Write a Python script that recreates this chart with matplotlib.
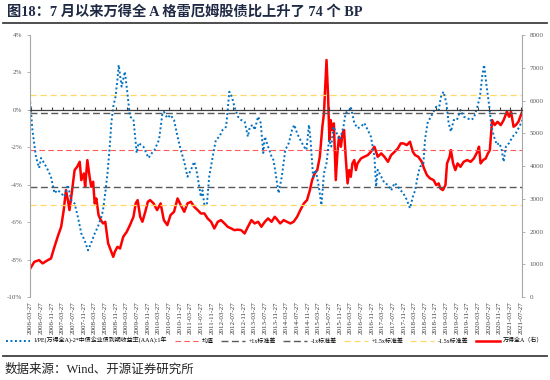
import datetime as dt

import matplotlib
matplotlib.use("Agg")
import matplotlib.dates as mdates
import matplotlib.pyplot as plt
from matplotlib.lines import Line2D
from matplotlib.ticker import FuncFormatter, MultipleLocator

CJK = ["Liberation Serif", "Noto Sans CJK SC"]
plt.rcParams["font.family"] = CJK

# 1/PE(万得全A) - 2*企业债收益率, %, (decimal year, value)
spread_t = [
    2006.22, 2006.24, 2006.29, 2006.40, 2006.50, 2006.56, 2006.66, 2006.77, 2006.87, 2006.98,
    2007.08, 2007.19, 2007.29, 2007.40, 2007.50, 2007.61, 2007.71, 2007.82, 2007.92, 2008.03,
    2008.13, 2008.24, 2008.34, 2008.45, 2008.50, 2008.57, 2008.64, 2008.71, 2008.76, 2008.82,
    2008.89, 2008.95, 2008.99, 2009.08, 2009.18, 2009.25, 2009.34, 2009.45, 2009.50, 2009.55,
    2009.61, 2009.76, 2009.92, 2010.03, 2010.11, 2010.25, 2010.35, 2010.40, 2010.51, 2010.61,
    2010.72, 2010.83, 2010.93, 2011.04, 2011.14, 2011.25, 2011.35, 2011.42, 2011.51, 2011.56,
    2011.61, 2011.67, 2011.75, 2011.82, 2011.93, 2012.03, 2012.14, 2012.24, 2012.35, 2012.40,
    2012.45, 2012.53, 2012.61, 2012.72, 2012.82, 2012.93, 2013.03, 2013.09, 2013.19, 2013.24,
    2013.35, 2013.43, 2013.51, 2013.56, 2013.66, 2013.77, 2013.83, 2013.88, 2013.99, 2014.09,
    2014.20, 2014.31, 2014.41, 2014.48, 2014.57, 2014.67, 2014.78, 2014.86, 2014.94, 2014.99,
    2015.07, 2015.15, 2015.25, 2015.33, 2015.41, 2015.49, 2015.57, 2015.64, 2015.70, 2015.81,
    2015.91, 2016.02, 2016.09, 2016.20, 2016.25, 2016.36, 2016.46, 2016.57, 2016.67, 2016.78,
    2016.88, 2016.99, 2017.04, 2017.09, 2017.20, 2017.30, 2017.41, 2017.51, 2017.62, 2017.72,
    2017.81, 2017.89, 2018.00, 2018.10, 2018.19, 2018.26, 2018.36, 2018.42, 2018.52, 2018.57,
    2018.65, 2018.73, 2018.84, 2018.92, 2019.00, 2019.07, 2019.15, 2019.24, 2019.31, 2019.38,
    2019.47, 2019.57, 2019.68, 2019.78, 2019.89, 2020.00, 2020.10, 2020.21, 2020.29, 2020.36,
    2020.42, 2020.50, 2020.57, 2020.65, 2020.73, 2020.82, 2020.89, 2020.96, 2021.03, 2021.10,
    2021.20, 2021.31, 2021.41, 2021.52, 2021.62, 2021.68,
]
spread_v = [
    0.44, 0.00, -1.07, -2.50, -3.10, -2.57, -2.85, -3.20, -3.57, -4.45,
    -4.28, -4.45, -4.64, -4.00, -4.80, -5.00, -5.70, -6.60, -6.95, -7.50,
    -7.10, -6.60, -6.24, -5.70, -5.35, -4.45, -3.38, -1.96, -0.70, 0.17,
    0.70, 1.60, 2.40, 1.24, 2.04, 1.06, -0.36, -0.50, -1.43, -2.30,
    -1.77, -1.96, -2.57, -2.30, -2.14, -1.60, -0.27, -0.10, -0.44, -0.27,
    -0.54, -1.43, -2.14, -2.77, -3.57, -3.20, -2.77, -3.20, -4.10, -4.64,
    -4.30, -5.08, -5.00, -3.57, -2.50, -1.60, -1.43, -1.07, -0.90, 0.00,
    0.97, 0.70, 0.17, -0.36, -0.54, -0.63, -1.43, -0.90, -0.80, -1.07,
    -0.36, -0.70, -2.30, -1.43, -1.96, -2.50, -2.68, -3.20, -4.45, -3.57,
    -2.14, -1.77, -1.07, -0.80, -1.25, -1.60, -1.96, -2.14, -0.80, -1.60,
    -3.57, -3.20, -4.10, -5.08, -3.38, -2.85, -1.60, -1.96, -0.90, -1.25,
    -1.60, -0.90, -0.17, 0.00, 0.17, -0.70, -0.98, -0.90, -0.70, -1.07,
    -1.43, -2.50, -4.10, -3.20, -3.57, -3.90, -4.00, -4.30, -3.90, -4.10,
    -4.30, -4.45, -4.80, -5.25, -4.64, -4.30, -3.38, -3.03, -2.85, -1.60,
    -0.70, -0.44, -0.10, 0.17, 0.00, 0.70, 0.97, 0.35, -0.70, -1.16,
    -0.54, -0.54, 0.00, -0.36, -0.44, -0.54, -0.44, 0.17, 0.70, 1.78,
    2.40, 1.24, 0.35, -0.90, -1.43, -1.87, -1.77, -2.05, -2.77, -1.96,
    -1.77, -1.43, -1.25, -0.90, -0.54, -0.70,
]

# 万得全A index (right axis)
index_t = [
    2006.19, 2006.35, 2006.50, 2006.61, 2006.77, 2006.87, 2006.98, 2007.08, 2007.19, 2007.27,
    2007.34, 2007.40, 2007.45, 2007.52, 2007.61, 2007.69, 2007.77, 2007.82, 2007.90, 2007.94,
    2008.01, 2008.08, 2008.13, 2008.19, 2008.24, 2008.29, 2008.36, 2008.43, 2008.50, 2008.57,
    2008.66, 2008.74, 2008.82, 2008.87, 2008.95, 2009.03, 2009.13, 2009.24, 2009.34, 2009.45,
    2009.52, 2009.58, 2009.66, 2009.73, 2009.82, 2009.90, 2009.97, 2010.08, 2010.19, 2010.30,
    2010.40, 2010.51, 2010.61, 2010.72, 2010.83, 2010.93, 2011.04, 2011.14, 2011.25, 2011.35,
    2011.46, 2011.56, 2011.67, 2011.77, 2011.88, 2011.98, 2012.09, 2012.19, 2012.30, 2012.40,
    2012.51, 2012.61, 2012.72, 2012.82, 2012.93, 2013.03, 2013.14, 2013.24, 2013.35, 2013.45,
    2013.56, 2013.66, 2013.77, 2013.87, 2013.96, 2014.04, 2014.15, 2014.25, 2014.36, 2014.46,
    2014.57, 2014.67, 2014.78, 2014.88, 2014.97, 2015.04, 2015.12, 2015.20, 2015.28, 2015.36,
    2015.41, 2015.46, 2015.49, 2015.54, 2015.58, 2015.62, 2015.67, 2015.72, 2015.78, 2015.83,
    2015.88, 2015.94, 2015.99, 2016.04, 2016.09, 2016.15, 2016.20, 2016.25, 2016.30, 2016.36,
    2016.41, 2016.46, 2016.57, 2016.67, 2016.78, 2016.88, 2016.99, 2017.09, 2017.20, 2017.30,
    2017.41, 2017.51, 2017.62, 2017.72, 2017.81, 2017.89, 2018.00, 2018.10, 2018.19, 2018.26,
    2018.36, 2018.47, 2018.54, 2018.63, 2018.73, 2018.84, 2018.92, 2019.00, 2019.05, 2019.13,
    2019.21, 2019.26, 2019.34, 2019.38, 2019.45, 2019.52, 2019.59, 2019.68, 2019.78, 2019.89,
    2020.00, 2020.10, 2020.21, 2020.26, 2020.31, 2020.39, 2020.47, 2020.54, 2020.60, 2020.67,
    2020.75, 2020.84, 2020.94, 2021.03, 2021.13, 2021.20, 2021.26, 2021.34, 2021.41, 2021.49,
    2021.57, 2021.66, 2021.70,
]
index_v = [
    824, 1078, 1130, 1030, 1130, 1180, 1536, 1842, 2147, 2656,
    3267, 2961, 2656, 3165, 3877, 3978, 4130, 3572, 3775, 3368,
    4183, 3673, 3368, 3521, 2860, 3012, 2503, 2351, 2249, 2300,
    1639, 1435, 1230, 1384, 1536, 1485, 1842, 1994, 2198, 2452,
    2860, 2961, 2452, 2300, 2605, 2910, 2961, 2860, 2656, 2860,
    2351, 2198, 2503, 2605, 3012, 2809, 2605, 2860, 2910, 2758,
    2656, 2554, 2554, 2402, 2300, 2096, 2300, 2351, 2249, 2147,
    2096, 2045, 2060, 2045, 1944, 2147, 2351, 2249, 2300, 2147,
    2300, 2402, 2300, 2452, 2351, 2249, 2351, 2300, 2249, 2300,
    2452, 2656, 2860, 2961, 3267, 3572, 3775, 3877, 4283, 5200,
    5608, 6625, 7236, 6115, 4793, 5404, 5100, 5302, 3572, 4387,
    4894, 4590, 4997, 5100, 4283, 3471, 3877, 3673, 4080, 4183,
    3877, 4080, 4232, 4283, 4334, 4436, 4589, 4283, 4387, 4283,
    4130, 4334, 4436, 4539, 4692, 4692, 4640, 4743, 4436, 4334,
    4283, 4130, 3928, 3724, 3622, 3572, 3420, 3470, 3317, 3267,
    3420, 4080, 4283, 4488, 4080, 3877, 4080, 3978, 4130, 4183,
    4130, 4232, 4436, 4590, 4080, 4183, 4232, 4387, 4488, 5404,
    5250, 5350, 5250, 5404, 5659, 5506, 5659, 5200, 5250, 5350,
    5558, 5760, 5455,
]

mean_val = -2.14
std_val = 1.96

title = "图18：7 月以来万得全 A 格雷厄姆股债比上升了 74 个 BP"
source = "数据来源：Wind、开源证券研究所"
labels = [
    "1/PE(万得全A)-2*中债企业债到期收益率(AAA):1年",
    "均值",
    "+1x标准差",
    "-1x标准差",
    "+1.5x标准差",
    "-1.5x标准差",
    "万得全A（右）",
]


def to_date(y):
    year = int(y)
    return dt.datetime(year, 1, 1) + dt.timedelta(days=(y - year) * 365.25)


def tick_dates():
    out = []
    year, month = 2006, 3
    while (year, month) <= (2021, 7):
        out.append(dt.datetime(year, month, 27))
        month += 4
        if month > 12:
            month -= 12
            year += 1
    return out


fig = plt.figure(figsize=(5.5, 3.8), dpi=100)
ax = fig.add_axes([0.0545, 0.218, 0.895, 0.69])
ax2 = ax.twinx()
ax.set_zorder(ax2.get_zorder() + 1)
ax.patch.set_visible(False)

x_spread = [to_date(t) for t in spread_t]
x_index = [to_date(t) for t in index_t]

c_blue = "#0070C0"
c_red = "#FF0000"
c_gray = "#595959"

ax2.plot(x_index, index_v, color=c_red, lw=1.8, zorder=3)
ax.axhline(mean_val, color="#FF5B5B", lw=0.8, ls=(0, (5, 3)))
ax.axhline(mean_val + std_val, color=c_gray, lw=1.0, ls=(0, (5, 2.5)))
ax.axhline(mean_val - std_val, color=c_gray, lw=1.0, ls=(0, (5, 2.5)))
ax.axhline(mean_val + 1.5 * std_val, color="#FFD966", lw=0.9, ls=(0, (5, 3)))
ax.axhline(mean_val - 1.5 * std_val, color="#FFD966", lw=0.9, ls=(0, (5, 3)))
ax.plot(x_spread, spread_v, color=c_blue, lw=1.4, ls=(0, (1, 1.3)))

ax.set_ylim(-10, 4)
ax.yaxis.set_major_locator(MultipleLocator(2))
ax.yaxis.set_major_formatter(FuncFormatter(lambda v, p: f"{v:.0f}%"))
ax2.set_ylim(0, 8000)
ax2.yaxis.set_major_locator(MultipleLocator(1000))

ticks = tick_dates()
ax.set_xlim(dt.datetime(2006, 3, 20), dt.datetime(2021, 8, 12))
ax.set_xticks(ticks)
ax.tick_params(axis="x", direction="in", length=2, color="#404040", labelbottom=False)
ax.spines["bottom"].set_position(("data", 0))
ax.spines["bottom"].set_color("#404040")
ax.spines["bottom"].set_linewidth(0.9)

sec = ax.secondary_xaxis(-0.0)
sec.set_xticks(ticks)
sec.xaxis.set_major_formatter(mdates.DateFormatter("%Y-%m-%d"))
sec.tick_params(axis="x", length=0, labelsize=5, rotation=90, labelcolor="#333333", pad=3)
sec.spines["bottom"].set_visible(False)

for a in (ax, ax2):
    a.spines["top"].set_visible(False)
ax.spines["right"].set_visible(False)
ax2.spines["bottom"].set_visible(False)
ax.spines["left"].set_color("#A6A6A6")
ax2.spines["right"].set_color("#A6A6A6")
ax2.spines["left"].set_visible(False)
ax.tick_params(axis="y", labelsize=5, colors="#A6A6A6", labelcolor="#595959", length=2, width=0.6)
ax2.tick_params(axis="y", labelsize=5, colors="#A6A6A6", labelcolor="#595959", length=2, width=0.6)

handles = [
    Line2D([], [], color=c_blue, lw=1.4, ls=(0, (1, 1.3))),
    Line2D([], [], color="#FF5B5B", lw=0.8, ls=(0, (5, 3))),
    Line2D([], [], color=c_gray, lw=1.0, ls=(0, (5, 2.5))),
    Line2D([], [], color=c_gray, lw=1.0, ls=(0, (5, 2.5))),
    Line2D([], [], color="#FFD966", lw=0.9, ls=(0, (5, 3))),
    Line2D([], [], color="#FFD966", lw=0.9, ls=(0, (5, 3))),
    Line2D([], [], color=c_red, lw=1.8),
]
fig.legend(handles, labels, loc="center", bbox_to_anchor=(0.5, 0.104), ncol=7,
           frameon=False, prop={"family": CJK, "size": 4.3}, handlelength=4,
           columnspacing=1.2, handletextpad=0.6)

fig.text(0.012, 0.968, title, family=CJK,
         fontsize=10.3, fontweight="bold", color="#1F2A44", va="center", ha="left")
fig.add_artist(Line2D([0.006, 0.995], [0.94, 0.94], color="#404040", lw=1.3,
                      transform=fig.transFigure))
fig.add_artist(Line2D([0.006, 0.995], [0.062, 0.062], color="#404040", lw=1.3,
                      transform=fig.transFigure))
fig.text(0.008, 0.027, source, family=CJK,
         fontsize=9, color="#222222", va="center", ha="left")

fig.savefig("out.png", dpi=100)
